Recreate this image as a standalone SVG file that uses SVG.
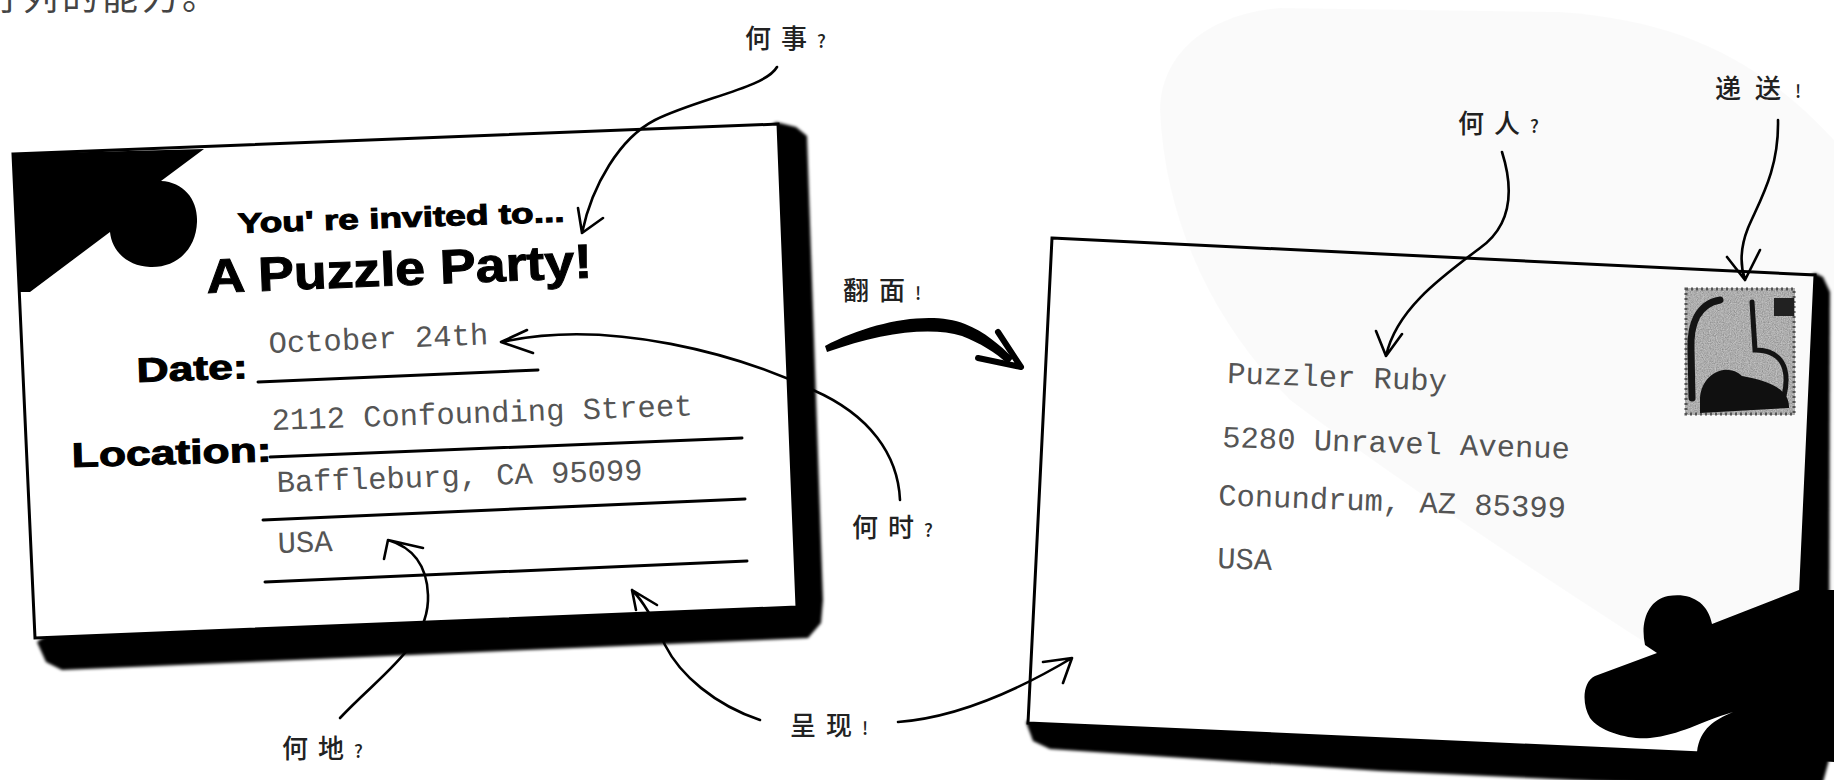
<svg xmlns="http://www.w3.org/2000/svg" width="1834" height="780" viewBox="0 0 1834 780">
  <defs>
    <filter id="soft" x="-5%" y="-5%" width="110%" height="110%">
      <feGaussianBlur stdDeviation="1.6"/>
    </filter>
    <filter id="grain" x="0" y="0" width="100%" height="100%">
      <feTurbulence type="fractalNoise" baseFrequency="0.85" numOctaves="2" seed="7" result="noise"/>
      <feColorMatrix in="noise" type="saturate" values="0" result="grey"/>
      <feComponentTransfer in="grey" result="tone">
        <feFuncR type="linear" slope="0.6" intercept="0.14"/>
        <feFuncG type="linear" slope="0.6" intercept="0.14"/>
        <feFuncB type="linear" slope="0.6" intercept="0.14"/>
        <feFuncA type="linear" slope="0" intercept="1"/>
      </feComponentTransfer>
      <feComposite in="tone" in2="SourceGraphic" operator="in"/>
    </filter>
    <style>
      .bold { font-family: "Liberation Sans", Arial, sans-serif; font-weight: bold; fill: #000; stroke: #000; stroke-width: 1; }
      .mono { font-family: "Liberation Mono", "Courier New", monospace; font-size: 30.5px; fill: #555; }
      .hand { font-family: "Noto Sans CJK SC", sans-serif; font-size: 26px; font-weight: 500; fill: #222; letter-spacing: 10px; }
      .q { font-size: 18px; }
      .edge { fill: #fff; stroke: #000; stroke-width: 3; stroke-linejoin: miter; }
      .shadow { fill: #000; filter: url(#soft); }
      .rule { stroke: #000; stroke-width: 3; stroke-linecap: round; }
      .link { fill: none; stroke: #000; stroke-width: 2.6; stroke-linecap: round; stroke-linejoin: round; }
      .ink { fill: #000; }
    </style>
  </defs>

  <rect width="1834" height="780" fill="#fff"/>

  <!-- line of body text running off the top edge -->
  <text x="-18" y="9.5" style="font-family:'Noto Sans CJK SC',sans-serif;font-size:36px;fill:#444;letter-spacing:4px">行列的能力。</text>

  <!-- front of the invitation -->
  <g id="invitation">
    <polygon class="shadow" points="776,122 796,127 807,136 823,600 821,623 808,638 62,670 46,662 37,642"/>
    <polygon class="edge" points="13,154 778,124 797,607 35,638"/>
    <path class="ink" d="M13,154 L204,149 L161,181 C184,182 198,200 197,222 C196,250 176,268 150,267 C128,266 112,252 110,232 L30,292 L20,292 Z"/>

    <text class="bold" x="238" y="233" font-size="28" textLength="327" lengthAdjust="spacingAndGlyphs" transform="rotate(-2 238 233)">You' re invited to...</text>
    <text class="bold" x="207" y="293" font-size="48" textLength="386" lengthAdjust="spacingAndGlyphs" transform="rotate(-2.3 207 293)">A Puzzle Party!</text>

    <text class="bold" x="137" y="382" font-size="34" textLength="111" lengthAdjust="spacingAndGlyphs" transform="rotate(-2 137 382)">Date:</text>
    <text class="mono" x="269" y="353" transform="rotate(-2.3 269 353)">October 24th</text>
    <line class="rule" x1="258" y1="382" x2="538" y2="370"/>

    <text class="bold" x="72" y="467" font-size="34" textLength="200" lengthAdjust="spacingAndGlyphs" transform="rotate(-1.6 72 467)">Location:</text>
    <text class="mono" x="272" y="430" transform="rotate(-2 272 430)">2112 Confounding Street</text>
    <line class="rule" x1="270" y1="457" x2="742" y2="438"/>
    <text class="mono" x="277" y="492" transform="rotate(-1.9 277 492)">Baffleburg, CA 95099</text>
    <line class="rule" x1="263" y1="520" x2="745" y2="499"/>
    <text class="mono" x="278" y="553" transform="rotate(-2 278 553)">USA</text>
    <line class="rule" x1="265" y1="582" x2="747" y2="561"/>
  </g>

  <!-- back of the invitation: the envelope side -->
  <g id="envelope">
    <polygon class="shadow" points="1026,722 1033,741 1050,749 1380,771 1700,786 1822,786 1829,760 1830,292 1823,277 1815,273"/>
    <polygon class="edge" points="1052,238 1815,275 1793,757 1028,723"/>
    <path class="ink" d="M1799,590 L1712,624 C1708,602 1690,592 1668,596 C1648,600 1640,622 1645,645 L1657,653 L1595,676 C1582,682 1582,705 1590,718 C1600,732 1630,740 1650,738 C1680,735 1700,722 1733,712 C1715,720 1700,728 1697,752 L1834,762 L1834,590 Z"/>

    <g id="stamp">
      <rect x="1685" y="288" width="110" height="127" fill="#777" filter="url(#grain)"/>
      <rect x="1686" y="289" width="108" height="125" fill="none" stroke="#555" stroke-width="3" stroke-dasharray="2 3"/>
      <rect x="1774" y="298" width="20" height="18" fill="#222"/>
      <path d="M1720,300 C1698,304 1690,324 1691,350 L1692,398" fill="none" stroke="#151515" stroke-width="7" stroke-linecap="round"/>
      <path d="M1752,302 L1755,350 C1780,350 1791,366 1784,396" fill="none" stroke="#151515" stroke-width="5" stroke-linecap="round"/>
      <path d="M1700,398 C1702,372 1728,362 1742,376 C1762,380 1790,386 1789,408 L1700,413 Z" fill="#111"/>
    </g>

    <text class="mono" x="1227" y="383" transform="rotate(2 1227 383)">Puzzler Ruby</text>
    <text class="mono" x="1222" y="447" transform="rotate(1.9 1222 447)">5280 Unravel Avenue</text>
    <text class="mono" x="1218" y="505" transform="rotate(2.1 1218 505)">Conundrum, AZ 85399</text>
    <text class="mono" x="1217" y="568" transform="rotate(2 1217 568)">USA</text>
  </g>

  <!-- callout labels -->
  <g id="labels">
    <text class="hand" x="745" y="48">何事<tspan class="q">?</tspan></text>
    <text class="hand" x="843" y="300">翻面<tspan class="q">!</tspan></text>
    <text class="hand" x="852" y="537">何时<tspan class="q">?</tspan></text>
    <text class="hand" x="282" y="758">何地<tspan class="q">?</tspan></text>
    <text class="hand" x="790" y="735">呈现<tspan class="q">!</tspan></text>
    <text class="hand" x="1458" y="133">何人<tspan class="q">?</tspan></text>
    <text class="hand" x="1715" y="98" style="letter-spacing:14px">递送<tspan class="q">!</tspan></text>
  </g>

  <!-- connectors -->
  <g id="connectors">
    <path class="link" d="M777,67 C765,88 700,98 655,120 C620,138 592,185 582,233 M578,208 L582,233 L603,218"/>
    <path class="link" d="M900,500 C898,455 870,415 813,390 C740,355 610,318 502,342 M527,330 L501,342 L533,353"/>
    <path class="link" d="M340,718 C380,675 430,645 428,595 C427,565 412,547 388,540 M384,559 L388,540 L423,548"/>
    <path class="link" d="M760,720 C715,705 680,675 665,645 C655,622 645,603 632,590 M657,605 L632,590 L636,610"/>
    <path class="link" d="M898,722 C950,718 1010,695 1072,658 M1043,662 L1072,658 L1063,683"/>
    <path class="link" d="M1502,152 C1514,190 1512,225 1480,248 C1440,278 1396,310 1386,356 M1376,331 L1386,356 L1402,334"/>
    <path class="link" d="M1778,120 C1779,170 1760,200 1748,228 C1740,248 1740,265 1745,280 M1727,257 L1745,280 L1760,250"/>
    <g id="flip">
      <path class="ink" d="M825,346 C870,322 930,310 965,324 C985,332 1000,345 1013,358 L1008,364 C995,352 980,343 962,336 C930,326 880,333 827,352 Z"/>
      <path d="M998,332 L1021,367 L978,358" fill="none" stroke="#000" stroke-width="6" stroke-linejoin="round" stroke-linecap="round"/>
    </g>
  </g>

  <!-- faint page watermark -->
  <path d="M1160,110 C1160,60 1200,15 1280,8 L1560,12 C1680,20 1760,60 1834,140 L1834,760 C1700,680 1450,520 1290,400 C1220,330 1165,230 1160,110 Z" fill="#000" opacity="0.02"/>
</svg>
